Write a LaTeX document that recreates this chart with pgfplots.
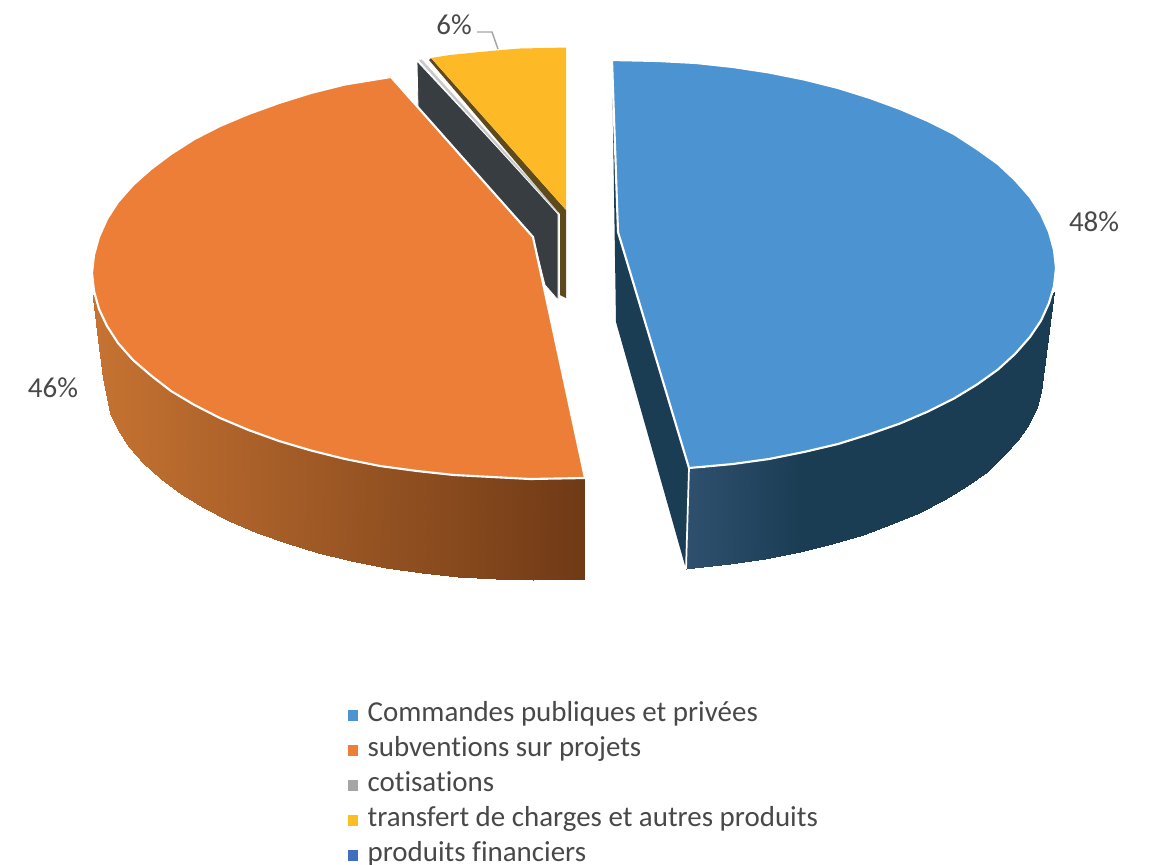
\documentclass[border=0pt]{standalone}
\usepackage{fontspec}
\setmainfont{Carlito}[Ligatures=NoCommon]
\usepackage{pgfplots}
\pgfplotsset{compat=1.18}
\definecolor{blueTop}{RGB}{76,147,209}
\definecolor{orangeTop}{RGB}{237,126,55}
\definecolor{yellowTop}{RGB}{253,186,38}
\definecolor{blueWall}{RGB}{27,61,84}
\definecolor{greyWall}{RGB}{56,61,65}
\definecolor{brownWall}{RGB}{95,74,28}
\definecolor{greySlice}{RGB}{165,165,165}
\definecolor{legendYellow}{RGB}{253,190,35}
\definecolor{legendBlue}{RGB}{65,110,190}
\definecolor{txt}{RGB}{72,72,72}
\pgfplotsset{
  colormap={wallorange}{rgb255(0cm)=(198,115,50); rgb255(10cm)=(112,58,22)},
  colormap={wallblue}{rgb255(0cm)=(46,80,110); rgb255(3cm)=(27,61,84); rgb255(10cm)=(27,61,84)},
}
\begin{document}
\begin{tikzpicture}
\begin{axis}[
  scale only axis, width=864.75pt, height=648pt,
  xmin=0, xmax=1153, ymin=0, ymax=864, y dir=reverse,
  hide axis, clip=false,
  point meta min=0, point meta max=1,
  legend cell align=left,
  legend style={at={(axis cs:348,702)}, anchor=north west, draw=none, fill=none,
    inner sep=0pt, row sep=6.75pt,
    font=\fontsize{21.7}{26}\selectfont\color{txt},
    nodes={inner ysep=0pt, inner xsep=3pt, text height=14.5pt, text depth=5pt}},
]
% orange slice, outer wall
\addplot[surf, shader=interp, colormap name=wallorange, mesh/rows=2, mesh/cols=21,
  mesh/ordering=y varies, point meta=explicit, forget plot] table[meta=m] {
x y m
94 291 0
93 298 0
97 303 0
98 340 0.01
102 315 0.02
103 378 0.02
107 326 0.03
110 413 0.04
113 335 0.04
118 430 0.05
118 343 0.05
129 447 0.075
133 360 0.08
143 463 0.10
151 375.5 0.12
161 479 0.14
171 391 0.16
181 494 0.18
194.5 405 0.21
204 508 0.23
220 418 0.26
229 521 0.28
248.5 430 0.32
257 533 0.33
279 441 0.38
286 543 0.39
311 450.5 0.44
318 553 0.46
345 459 0.51
351 561 0.53
380 466 0.58
386 568 0.60
417 471 0.66
422 573 0.67
454 475 0.73
458 577 0.74
492 477 0.81
496 579 0.82
530 479 0.89
533 580 0.90
585 478 1
585 579 1
};
% orange slice, cut face behind it
\addplot[fill=greyWall, draw=white, line width=0.6pt, forget plot] coordinates {
  (417,61) (558,212) (558,300) (545,285) (533,237) (418,107)} -- cycle;
% orange top
\addplot[fill=orangeTop, draw=white, line width=1.6pt, forget plot] coordinates {
  (391,77) (345,84.5) (311,93) (279,103) (248.5,114) (220,126) (194.5,139) (171,154)
  (151,169) (133,185) (118,202) (107,219) (99,237) (94,255) (92,273)
  (94,291) (99,309) (107,326) (118,343) (133,360) (151,375.5) (171,391) (194.5,405)
  (220,418) (248.5,430) (279,441) (311,450.5) (345,459) (380,466) (417,471)
  (454,475) (492,477) (530,479) (585,478) (533,237)} -- cycle;
% grey sliver
\addplot[fill=greySlice!60!white, draw=white, line width=0.5pt, forget plot] coordinates {
  (418,60) (422,59) (559,211) (558,214)} -- cycle;
% yellow slice
\addplot[fill=brownWall, draw=none, forget plot] coordinates {
  (429,60) (431,58) (566,210) (566,298) (560,295) (560,214)} -- cycle;
\addplot[fill=yellowTop, draw=none, forget plot] coordinates {
  (431,58) (450,55) (480,52) (496,50.5) (520,48.5) (545,48) (566,47.5) (566,210)} -- cycle;
% blue slice, cut face
\addplot[fill=blueWall, draw=none, forget plot] coordinates {
  (612,62) (616,322) (686,569) (689,468) (618,232)} -- cycle;
% blue slice, outer wall
\addplot[surf, shader=interp, colormap name=wallblue, mesh/rows=2, mesh/cols=18,
  mesh/ordering=y varies, point meta=explicit, forget plot] table[meta=m] {
x y m
689 468 0
686 569 0
696 468 0.02
694 568 0.01
733 464 0.12
730 564 0.11
769 459 0.22
765 559 0.21
804 452 0.31
799.5 552 0.30
838 444 0.41
832 544 0.39
870 434 0.49
863 535 0.47
900 423.5 0.57
892 524 0.55
928 411.5 0.65
919 513 0.63
954 398.5 0.72
944 500 0.69
977 384.5 0.78
967 486 0.76
998 369.5 0.84
986.5 471.5 0.81
1015 354 0.89
1003 456 0.86
1030 337 0.93
1018 440 0.90
1041 320.6 0.96
1029 423.5 0.93
1049 303 0.98
1037 407 0.95
1052 295 1
1041 392 0.96
1054 292 1
1043 376 0.97
};
\addplot[white, line width=1.3pt, forget plot] coordinates {(689,468) (686,569)};
% blue top
\addplot[fill=blueTop, draw=white, line width=1.6pt, forget plot] coordinates {
  (612,60) (658,61) (696,63) (733,67) (769,72.5) (804,79.5) (838,88) (870,98) (900,109)
  (928,121) (954,134) (977,149) (998,164) (1015,180) (1030,197) (1041,214) (1049,232)
  (1054,250) (1056,268) (1054,286) (1049,303) (1041,320.6) (1030,337) (1015,354)
  (998,369.5) (977,384.5) (954,398.5) (928,411.5) (900,423.5) (870,434) (838,444)
  (804,452) (769,459) (733,464) (689,468) (618,232)} -- cycle;
% leader line of the 6% label
\addplot[color=greySlice, line width=1.1pt, forget plot] coordinates {(477,32) (492,32) (498,49)};
\node[font=\fontsize{21.7}{26}\selectfont, text=txt] at (axis cs:1094,222) {48\%};
\node[font=\fontsize{21.7}{26}\selectfont, text=txt] at (axis cs:53,388) {46\%};
\node[font=\fontsize{21.7}{26}\selectfont, text=txt] at (axis cs:454,25) {6\%};
% legend
\addlegendimage{only marks, mark=square*, mark size=3.5pt, color=blueTop}
\addlegendentry{\hspace*{4.5pt}Commandes publiques et privées}
\addlegendimage{only marks, mark=square*, mark size=3.5pt, color=orangeTop}
\addlegendentry{\hspace*{4.5pt}subventions sur projets}
\addlegendimage{only marks, mark=square*, mark size=3.5pt, color=greySlice}
\addlegendentry{\hspace*{4.5pt}cotisations}
\addlegendimage{only marks, mark=square*, mark size=3.5pt, color=legendYellow}
\addlegendentry{\hspace*{4.5pt}transfert de charges et autres produits}
\addlegendimage{only marks, mark=square*, mark size=3.5pt, color=legendBlue}
\addlegendentry{\hspace*{4.5pt}produits financiers}
\end{axis}
\pgfresetboundingbox
\path[use as bounding box] (0,0) rectangle (864.75pt,648pt);
\end{tikzpicture}
\end{document}
